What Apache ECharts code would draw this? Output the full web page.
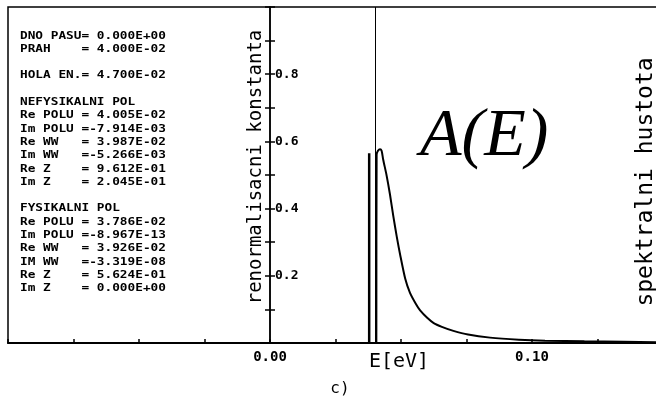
<!DOCTYPE html>
<html><head><meta charset="utf-8">
<script src="https://cdn.jsdelivr.net/npm/echarts@6/dist/echarts.min.js"></script>
<style>html,body{margin:0;padding:0;background:#fff}#c{width:656px;height:401px}</style>
</head><body><div id="c"></div>
<script>
// Spectral density A(E) continuum
const energy = [0.0406, 0.0407, 0.0412, 0.0420, 0.0426, 0.0432, 0.0445, 0.0458, 0.0471, 0.0484, 0.0497, 0.0516, 0.0534, 0.0557, 0.0573, 0.0600, 0.0625, 0.0656, 0.0700, 0.0756, 0.0840, 0.0950, 0.1050, 0.1200, 0.1350, 0.1481];
const spectral = [0, 0.560, 0.572, 0.577, 0.572, 0.546, 0.499, 0.442, 0.376, 0.316, 0.262, 0.192, 0.150, 0.116, 0.097, 0.075, 0.059, 0.048, 0.036, 0.025, 0.016, 0.010, 0.007, 0.005, 0.0035, 0.0025];
// Physical pole (delta peak)
const poleEnergy = [0.03786, 0.03786];
const poleWeight = [0, 0.565];
// Threshold (PRAH)
const thresholdEnergy = 0.04;
// Tick labels
const xTickValues = [0, 0.1];
const xTickLabels = ['0.00', '0.10'];
const yTickValues = [0.2, 0.4, 0.6, 0.8];
const yTickLabels = ['0.2', '0.4', '0.6', '0.8'];
// Texts
const infoLines = [
  'DNO PASU= 0.000E+00',
  'PRAH    = 4.000E-02',
  '',
  'HOLA EN.= 4.700E-02',
  '',
  'NEFYSIKALNI POL',
  'Re POLU = 4.005E-02',
  'Im POLU =-7.914E-03',
  'Re WW   = 3.987E-02',
  'Im WW   =-5.266E-03',
  'Re Z    = 9.612E-01',
  'Im Z    = 2.045E-01',
  '',
  'FYSIKALNI POL',
  'Re POLU = 3.786E-02',
  'Im POLU =-8.967E-13',
  'Re WW   = 3.926E-02',
  'IM WW   =-3.319E-08',
  'Re Z    = 5.624E-01',
  'Im Z    = 0.000E+00'
];
const leftAxisTitle = 'renormalisacni konstanta';
const rightAxisTitle = 'spektralni hustota';
const xAxisTitle = 'E[eV]';
const plotTitle = 'A(E)';
const panelLabel = 'c)';

const MONO = '"DejaVu Sans Mono", "Liberation Mono", monospace';
const pick = (vals, labels) => (v) => {
  const i = vals.findIndex(t => Math.abs(t - Number(v)) < 1e-6);
  return i >= 0 ? labels[i] : '';
};

const chart = echarts.init(document.getElementById('c'), null, {renderer: 'canvas'});
const lineBlack = {color: '#000', width: 1.5};
const gridBase = {top: 7, bottom: 58, containLabel: false, outerBoundsMode: 'none'};
chart.setOption({
  animation: false,
  backgroundColor: '#fff',
  grid: [
    Object.assign({left: 8, right: -2, show: true, borderColor: '#000', borderWidth: 1.5, backgroundColor: 'transparent'}, gridBase),
    Object.assign({left: 8, width: 262, show: false}, gridBase),
    Object.assign({left: 270, right: -2, show: false}, gridBase)
  ],
  xAxis: [
    {
      gridIndex: 0, type: 'value', min: -0.1, max: 0.1481, interval: 0.025,
      axisLine: {show: true, onZero: false, lineStyle: {color: '#000', width: 2}},
      axisTick: {show: true, inside: true, length: 4, lineStyle: lineBlack},
      axisLabel: {show: true, margin: 7, color: '#000', fontFamily: MONO, fontWeight: 'bold', fontSize: 14,
                  formatter: pick(xTickValues, xTickLabels), showMinLabel: true, showMaxLabel: true},
      splitLine: {show: false}
    },
    {gridIndex: 1, type: 'value', min: 0, max: 1, show: false},
    {gridIndex: 2, type: 'value', min: 0, max: 1, show: false}
  ],
  yAxis: [
    {gridIndex: 0, type: 'value', min: 0, max: 1, interval: 0.1, show: false},
    {
      gridIndex: 1, type: 'value', min: 0, max: 1, interval: 0.1, position: 'right',
      axisLine: {show: true, onZero: false, lineStyle: lineBlack},
      axisTick: {show: true, inside: true, length: 5, lineStyle: lineBlack},
      axisLabel: {show: false}, splitLine: {show: false}
    },
    {
      gridIndex: 2, type: 'value', min: 0, max: 1, interval: 0.1, position: 'left',
      axisLine: {show: true, onZero: false, lineStyle: lineBlack},
      axisTick: {show: true, inside: true, length: 5, lineStyle: lineBlack},
      axisLabel: {show: true, inside: true, margin: 5, color: '#000', fontFamily: MONO, fontWeight: 'bold', fontSize: 13,
                  formatter: pick(yTickValues, yTickLabels)},
      splitLine: {show: false}
    }
  ],
  series: [
    {
      name: 'A(E)', type: 'line', xAxisIndex: 0, yAxisIndex: 0,
      data: energy.map((e, i) => [e, spectral[i]]),
      showSymbol: false, symbol: 'none', smooth: 0.25,
      lineStyle: {color: '#000', width: 2},
      markLine: {
        silent: true, symbol: ['none', 'none'], label: {show: false},
        lineStyle: {color: '#000', width: 1, type: 'solid'},
        data: [{xAxis: thresholdEnergy}]
      }
    },
    {
      name: 'pol', type: 'line', xAxisIndex: 0, yAxisIndex: 0,
      data: poleEnergy.map((e, i) => [e, poleWeight[i]]),
      showSymbol: false, symbol: 'none',
      lineStyle: {color: '#000', width: 2.5}
    }
  ],
  graphic: [
    {type: 'text', x: 20, y: 29, scaleX: 1.16, style: {text: infoLines.join('\n'), font: 'bold 11px ' + MONO, fill: '#000', lineHeight: 13.3, align: 'left', verticalAlign: 'top'}},
    {type: 'text', x: 256, y: 167, rotation: Math.PI / 2, style: {text: leftAxisTitle, font: '19px ' + MONO, fill: '#000', align: 'center', verticalAlign: 'middle'}},
    {type: 'text', x: 646, y: 182, rotation: Math.PI / 2, style: {text: rightAxisTitle, font: '23px ' + MONO, fill: '#000', align: 'center', verticalAlign: 'middle'}},
    {type: 'text', x: 399, y: 362, style: {text: xAxisTitle, font: '20px ' + MONO, fill: '#000', align: 'center', verticalAlign: 'middle'}},
    {type: 'text', x: 340, y: 389, style: {text: panelLabel, font: '16px ' + MONO, fill: '#000', align: 'center', verticalAlign: 'middle'}},
    {type: 'text', x: 420, y: 137, style: {text: plotTitle, font: 'italic 68px "Liberation Serif", "DejaVu Serif", serif', fill: '#000', align: 'left', verticalAlign: 'middle'}}
  ]
});
</script>
</body></html>
